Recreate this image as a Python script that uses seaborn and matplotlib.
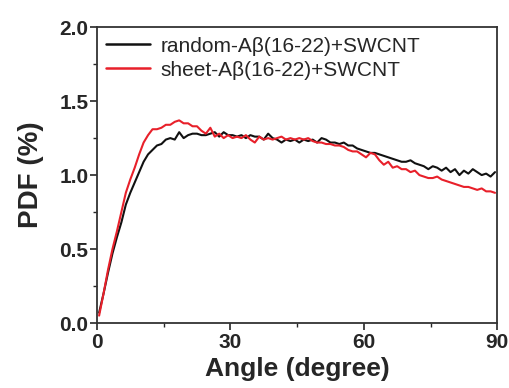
import numpy as np
import pandas as pd
import matplotlib
matplotlib.use("Agg")
import matplotlib.pyplot as plt
import seaborn as sns
from matplotlib.ticker import MultipleLocator

# bin centres (degree)
angle = np.arange(0.5, 90, 1.0)

random_pdf = [0.07, 0.20, 0.34, 0.47, 0.58, 0.68, 0.80, 0.88, 0.95, 1.02,
              1.09, 1.14, 1.17, 1.20, 1.21, 1.24, 1.25, 1.24, 1.29, 1.25,
              1.27, 1.28, 1.28, 1.27, 1.27, 1.28, 1.29, 1.26, 1.29, 1.27,
              1.27, 1.26, 1.27, 1.25, 1.27, 1.26, 1.26, 1.24, 1.28, 1.25,
              1.24, 1.22, 1.24, 1.23, 1.24, 1.22, 1.24, 1.23, 1.24, 1.22,
              1.25, 1.24, 1.22, 1.22, 1.21, 1.22, 1.20, 1.20, 1.18, 1.17,
              1.16, 1.15, 1.15, 1.14, 1.13, 1.12, 1.11, 1.10, 1.09, 1.09,
              1.10, 1.08, 1.07, 1.06, 1.04, 1.06, 1.05, 1.03, 1.05, 1.02,
              1.04, 1.00, 1.03, 1.01, 1.04, 1.02, 1.00, 1.01, 0.99, 1.02]

sheet_pdf = [0.05, 0.20, 0.36, 0.50, 0.62, 0.75, 0.88, 0.97, 1.05, 1.14,
             1.22, 1.27, 1.31, 1.31, 1.32, 1.34, 1.34, 1.36, 1.37, 1.35,
             1.35, 1.33, 1.33, 1.30, 1.28, 1.32, 1.26, 1.28, 1.25, 1.27,
             1.25, 1.26, 1.25, 1.27, 1.24, 1.22, 1.26, 1.24, 1.25, 1.24,
             1.25, 1.26, 1.24, 1.25, 1.24, 1.25, 1.24, 1.25, 1.23, 1.22,
             1.22, 1.21, 1.21, 1.20, 1.20, 1.19, 1.17, 1.16, 1.16, 1.14,
             1.12, 1.15, 1.14, 1.10, 1.07, 1.09, 1.05, 1.06, 1.04, 1.04,
             1.02, 1.03, 1.00, 0.99, 0.98, 0.98, 0.99, 0.97, 0.96, 0.95,
             0.94, 0.93, 0.92, 0.92, 0.91, 0.90, 0.91, 0.89, 0.89, 0.88]

labels = ["random-A\u03b2(16-22)+SWCNT", "sheet-A\u03b2(16-22)+SWCNT"]
colors = ["#111111", "#e8202a"]

df = pd.concat([
    pd.DataFrame({"angle": angle, "pdf": random_pdf, "system": labels[0]}),
    pd.DataFrame({"angle": angle, "pdf": sheet_pdf, "system": labels[1]}),
])

sns.set_style("ticks")
plt.rcParams['font.family'] = ['Liberation Sans', 'DejaVu Sans']

fig = plt.figure(figsize=(5.1, 3.88), dpi=100)
ax = fig.add_axes([0.190, 0.1675, 0.785, 0.7625])
sns.lineplot(data=df, x="angle", y="pdf", hue="system", palette=colors,
             linewidth=1.5, ax=ax)

ax.set_xlim(0, 90)
ax.set_ylim(0, 2.0)
ax.xaxis.set_major_locator(MultipleLocator(30))
ax.xaxis.set_minor_locator(MultipleLocator(15))
ax.yaxis.set_major_locator(MultipleLocator(0.5))
ax.yaxis.set_minor_locator(MultipleLocator(0.25))
ax.set_yticklabels([f"{v:.1f}" for v in ax.get_yticks()])
ax.tick_params(which='major', direction='out', length=5, width=1.2,
               labelsize=15, pad=1)
ax.tick_params(axis='x', which='major', pad=2)
ax.tick_params(which='minor', direction='out', length=3, width=1.0)
for lab in ax.get_xticklabels() + ax.get_yticklabels():
    lab.set_fontweight('bold')
for sp in ax.spines.values():
    sp.set_visible(True)
    sp.set_linewidth(1.3)
    sp.set_color('#333333')

ax.set_xlabel("Angle (degree)", fontsize=19, fontweight='bold', labelpad=4)
ax.set_ylabel("PDF (%)", fontsize=20, fontweight='bold', labelpad=11)

leg = ax.legend(loc='upper left', frameon=False, fontsize=15,
                handlelength=2.1, handletextpad=0.5, borderaxespad=0.05,
                labelspacing=0.25)
for line in leg.get_lines():
    line.set_linewidth(1.8)

fig.savefig("out.png", dpi=100)
